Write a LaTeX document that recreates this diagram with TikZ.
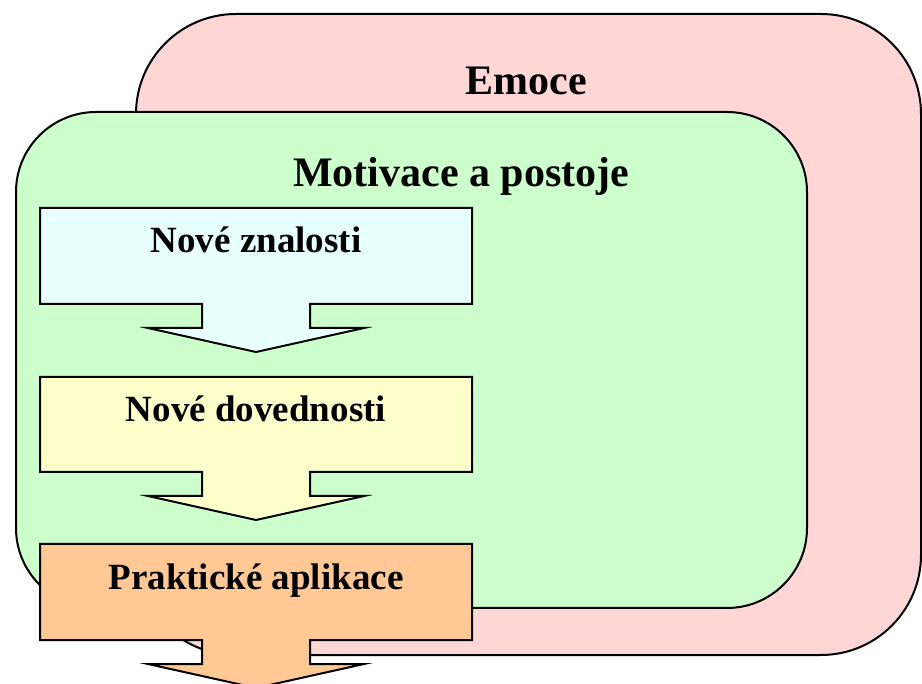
\documentclass[tikz,border=0pt]{standalone}
\usepackage{fontspec}
\setmainfont{Liberation Serif}
\definecolor{emocefill}{HTML}{FFD6D6}
\definecolor{motivfill}{HTML}{CCFFCC}
\definecolor{znalfill}{HTML}{E8FFFF}
\definecolor{dovedfill}{HTML}{FFFFCC}
\definecolor{praxfill}{HTML}{FFC895}
\begin{document}
\begin{tikzpicture}[x=1pt,y=-1pt,
  frame/.style={draw=black,line width=2pt},
  title/.style={font=\fontsize{42}{46}\selectfont\bfseries,anchor=base,inner sep=0pt},
  label/.style={font=\fontsize{37}{40}\selectfont\bfseries,anchor=base,inner sep=0pt}]
  \useasboundingbox (0,0) rectangle (922,684);
  \clip (0,0) rectangle (922,684);

  % outer and inner rounded panels
  \draw[frame,fill=emocefill,rounded corners=100pt] (136,14) rectangle (921,655);
  \draw[frame,fill=motivfill,rounded corners=80pt] (16,112) rectangle (807,608);
  \node[title] (emoce) at (526,95) {Emoce};
  \node[title] (motiv) at (461,187) {Motivace a postoje};

  % box with a downward block arrow: #1 top, #2 bottom, #3 fill
  \newcommand{\stagebox}[3]{%
    \draw[frame,fill=#3] (40,#1) -- (472,#1) -- (472,#2) -- (310,#2)
      -- (310,#2+24) -- (364,#2+24) -- (256,#2+48) -- (148,#2+24)
      -- (202,#2+24) -- (202,#2) -- (40,#2) -- cycle;}

  \stagebox{208}{304}{znalfill}
  \node[label] (znal) at (256,253) {Nové znalosti};
  \stagebox{377}{472}{dovedfill}
  \node[label] (doved) at (256,422) {Nové dovednosti};
  \stagebox{544}{640}{praxfill}
  \node[label] (prax) at (256,590) {Praktické aplikace};
\end{tikzpicture}
\end{document}
